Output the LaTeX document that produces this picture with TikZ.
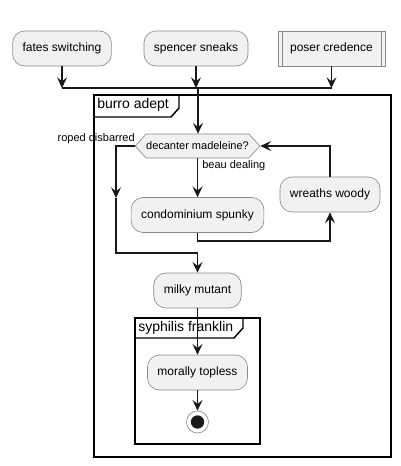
\documentclass[tikz,border=0pt]{standalone}
\usepackage{fontspec}
\setmainfont{Liberation Sans}
\usepackage{xcolor}
\usetikzlibrary{arrows.meta, shapes.symbols}

\definecolor{actfill}{HTML}{F1F1F1}
\definecolor{actline}{HTML}{8A8A8A}
\definecolor{wire}{HTML}{181818}

\begin{document}
\begin{tikzpicture}[x=0.75pt, y=-0.75pt,
    every node/.style={font=\fontsize{9}{11}\selectfont, inner sep=0pt},
    act/.style={rectangle, rounded corners=9pt, draw=actline, fill=actfill,
        line width=0.5pt, minimum height=26.25pt, inner xsep=7.5pt},
    subproc/.style={rectangle, draw=actline, fill=actfill, line width=0.5pt,
        minimum height=26.25pt, inner xsep=9pt,
        path picture={
            \draw[actline, line width=0.5pt]
                ([xshift=3pt]path picture bounding box.north west) --
                ([xshift=3pt]path picture bounding box.south west);
            \draw[actline, line width=0.5pt]
                ([xshift=-3pt]path picture bounding box.north east) --
                ([xshift=-3pt]path picture bounding box.south east);}},
    decision/.style={signal, signal to=west and east, signal pointer angle=95,
        draw=actline, fill=actfill, line width=0.5pt, minimum height=18pt,
        minimum width=92pt, font=\fontsize{8.25}{10}\selectfont},
    lbl/.style={font=\fontsize{8.25}{10}\selectfont},
    framelbl/.style={font=\fontsize{10.5}{12}\selectfont},
    frame/.style={draw=black, line width=1.1pt},
    endstate/.style={circle, draw=actline, line width=0.5pt, fill=white,
        minimum size=16.5pt,
        path picture={\fill[wire] (path picture bounding box.center) circle (5pt);}},
    flow/.style={draw=wire, line width=0.85pt,
        -{Stealth[length=8pt, width=7.5pt, inset=3pt]}},
    wireline/.style={draw=wire, line width=0.85pt}]
    \useasboundingbox (0,0) rectangle (400,466);

    % starting activities
    \node[act] (fates) at (62,48.5) {fates switching};
    \node[act] (spencer) at (196,48.5) {spencer sneaks};
    \node[subproc] (poser) at (331.5,48.5) {poser credence};

    \coordinate (barL) at (62,88);
    \coordinate (barR) at (331.5,88);
    \coordinate (barM) at (198,88);

    \draw[flow] (fates) -- (barL);
    \draw[flow] (spencer) -- (spencer |- barM);
    \draw[flow] (poser) -- (barR);
    \draw[wireline] (barL) -- (barR);

    % outer frame
    \draw[frame] (94,95) rectangle (391,457);
    \draw[frame] (94,117) -- (171,117) -- (179,108) -- (179,95);
    \node[framelbl, anchor=west] (burro) at (97,105) {burro adept};

    % decision and loop
    \node[decision] (decant) at (197.5,146) {decanter madeleine?};
    \node[lbl, anchor=east] (roped) at (135,139) {roped disbarred};
    \node[lbl, anchor=west] (beau) at (202,166) {beau dealing};
    \node[act] (condo) at (197.5,215) {condominium spunky};
    \node[act] (wreaths) at (330,194.5) {wreaths woody};

    \draw[flow] (barM) -- (barM |- decant.north);
    \draw[flow] (decant.south) -- (condo.north);

    \coordinate (loopB) at (197.5,241);
    \draw[flow] (condo.south) -- (loopB) -| (wreaths.south);
    \draw[flow] (wreaths.north) |- (decant.east);

    \coordinate (leftMid) at (116,198);
    \coordinate (merge) at (197.5,253);
    \draw[flow] (decant.west) -| (leftMid);
    \draw[wireline] (leftMid) -- (leftMid |- merge) -- (merge);

    \node[act] (milky) at (197.5,290.5) {milky mutant};
    \draw[flow] (merge) -- (milky.north);

    % inner frame
    \draw[frame] (135,318) rectangle (260,444);
    \draw[frame] (135,338) -- (234,338) -- (243,328) -- (243,318);
    \node[framelbl, anchor=west] (syph) at (138,328) {syphilis franklin};

    \node[act] (morally) at (197.5,372.5) {morally topless};
    \node[endstate] (stop) at (197.5,422) {};

    \draw[flow] (milky.south) -- (morally.north);
    \draw[flow] (morally.south) -- (stop.north);
\end{tikzpicture}
\end{document}
